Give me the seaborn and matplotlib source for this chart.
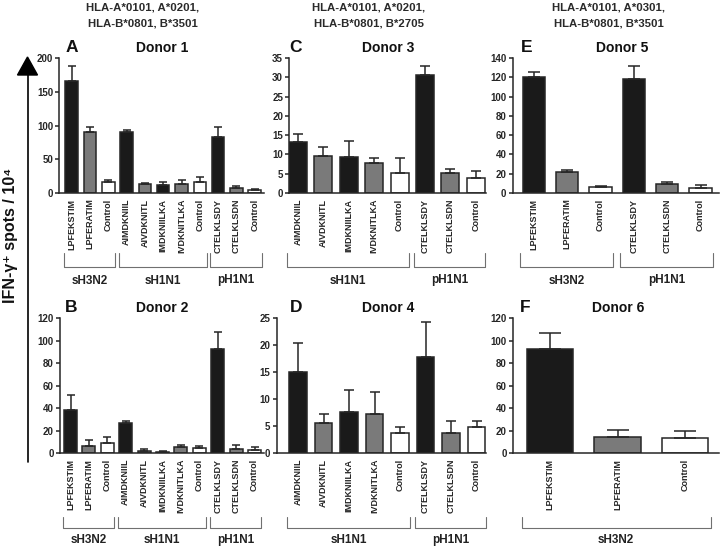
import numpy as np
import pandas as pd
import matplotlib
matplotlib.use("Agg")
import matplotlib.pyplot as plt
import seaborn as sns
from matplotlib import transforms
from matplotlib.lines import Line2D
from matplotlib.patches import Polygon

# ---------------- data ----------------
hla_headers = [["HLA-A*0101, A*0201,", "HLA-B*0801, B*3501"],
               ["HLA-A*0101, A*0201,", "HLA-B*0801, B*2705"],
               ["HLA-A*0101, A*0301,", "HLA-B*0801, B*3501"]]

labels_AB = ["LPFEKSTIM", "LPFERATIM", "Control", "AIMDKNIIL", "AIVDKNITL",
             "IMDKNIILKA", "IVDKNITLKA", "Control", "CTELKLSDY", "CTELKLSDN", "Control"]
groups_AB = ["sH3N2", "sH3N2", "sH3N2", "sH1N1", "sH1N1", "sH1N1", "sH1N1", "sH1N1",
             "pH1N1", "pH1N1", "pH1N1"]
labels_CD = ["AIMDKNIIL", "AIVDKNITL", "IMDKNIILKA", "IVDKNITLKA", "Control",
             "CTELKLSDY", "CTELKLSDN", "Control"]
groups_CD = ["sH1N1", "sH1N1", "sH1N1", "sH1N1", "sH1N1", "pH1N1", "pH1N1", "pH1N1"]
labels_E = ["LPFEKSTIM", "LPFERATIM", "Control", "CTELKLSDY", "CTELKLSDN", "Control"]
groups_E = ["sH3N2", "sH3N2", "sH3N2", "pH1N1", "pH1N1", "pH1N1"]
labels_F = ["LPFEKSTIM", "LPFERATIM", "Control"]
groups_F = ["sH3N2", "sH3N2", "sH3N2"]

donor1_vals = [166, 90, 16, 90, 13, 12, 14, 17, 83, 7, 4]
donor1_err = [22, 8, 4, 3.5, 2, 4, 6, 6, 15, 4, 2]
donor2_vals = [38.5, 6.5, 9.5, 26.7, 2.0, 1.2, 5.3, 4.4, 92.7, 4.0, 3.3]
donor2_err = [13.3, 5.3, 5.3, 2.0, 1.8, 0.6, 2.4, 2.4, 15.3, 3.0, 2.0]
donor3_vals = [13.3, 9.5, 9.4, 7.7, 5.1, 30.5, 5.1, 3.8]
donor3_err = [2.1, 2.4, 4.0, 1.5, 3.9, 2.4, 1.0, 2.0]
donor4_vals = [15.0, 5.6, 7.7, 7.3, 3.7, 17.8, 3.7, 4.9]
donor4_err = [5.4, 1.6, 4.1, 4.1, 1.1, 6.6, 2.3, 1.1]
donor5_vals = [120.5, 21.4, 5.9, 118.6, 9.0, 5.5]
donor5_err = [5.2, 2.4, 1.1, 13.4, 2.5, 2.4]
donor6_vals = [92.4, 14.4, 13.5]
donor6_err = [14.3, 6.0, 5.9]

yticks_1 = [0, 50, 100, 150, 200]
yticks_2 = [0, 20, 40, 60, 80, 100, 120]
yticks_3 = [0, 5, 10, 15, 20, 25, 30, 35]
yticks_4 = [0, 5, 10, 15, 20, 25]
yticks_5 = [0, 20, 40, 60, 80, 100, 120, 140]
yticks_6 = [0, 20, 40, 60, 80, 100, 120]

# ---------------- style ----------------
sns.set_theme(style="ticks")
plt.rcParams['font.family'] = ['Liberation Sans', 'DejaVu Sans']
plt.rcParams['font.weight'] = 'bold'

shade_of = {"LPFEKSTIM": "k", "AIMDKNIIL": "k", "IMDKNIILKA": "k", "CTELKLSDY": "k",
            "LPFERATIM": "g", "AIVDKNITL": "g", "IVDKNITLKA": "g", "CTELKLSDN": "g",
            "Control": "w"}
palette = {"k": "#1a1a1a", "g": "#7a7a7a", "w": "#ffffff"}
EDGE = "#262626"

W, H = 720, 546
fig = plt.figure(figsize=(7.2, 5.46), dpi=100)


def fx(x):
    return x / W


def fy(y):
    return 1 - y / H


panels = [
    dict(letter="A", title="Donor 1", labels=labels_AB, groups=groups_AB, vals=donor1_vals,
         errs=donor1_err, yticks=yticks_1, left=59.3, right=264, top=58, bottom=193,
         c0=71.7, step=18.3, width=0.68, cap=2.8, lx=72, tx=162, row=0),
    dict(letter="C", title="Donor 3", labels=labels_CD, groups=groups_CD, vals=donor3_vals,
         errs=donor3_err, yticks=yticks_3, left=289.3, right=486, top=58, bottom=193,
         c0=298, step=25.4, width=0.71, cap=3.6, lx=296, tx=388, row=0),
    dict(letter="E", title="Donor 5", labels=labels_E, groups=groups_E, vals=donor5_vals,
         errs=donor5_err, yticks=yticks_5, left=512.7, right=719, top=58, bottom=193,
         c0=534, step=33.3, width=0.67, cap=4.0, lx=527, tx=622, row=0),
    dict(letter="B", title="Donor 2", labels=labels_AB, groups=groups_AB, vals=donor2_vals,
         errs=donor2_err, yticks=yticks_2, left=60, right=264, top=318.3, bottom=453.3,
         c0=70.5, step=18.4, width=0.7, cap=2.8, lx=71, tx=162, row=1),
    dict(letter="D", title="Donor 4", labels=labels_CD, groups=groups_CD, vals=donor4_vals,
         errs=donor4_err, yticks=yticks_4, left=276.7, right=486, top=318.3, bottom=453.3,
         c0=298, step=25.5, width=0.7, cap=3.6, lx=296, tx=388, row=1),
    dict(letter="F", title="Donor 6", labels=labels_F, groups=groups_F, vals=donor6_vals,
         errs=donor6_err, yticks=yticks_6, left=513, right=719, top=318.3, bottom=453.3,
         c0=550, step=67.5, width=0.69, cap=8.0, lx=525, tx=618, row=1),
]

row_text = {0: dict(base=52, br_top=253, br_bot=267, glab=283.5),
            1: dict(base=311.7, br_top=517, br_bot=528, glab=543)}

for p in panels:
    ax = fig.add_axes([fx(p["left"]), fy(p["bottom"]),
                       (p["right"] - p["left"]) / W, (p["bottom"] - p["top"]) / H])
    n = len(p["vals"])
    df = pd.DataFrame({"pos": [f"b{i}" for i in range(n)],
                       "val": p["vals"],
                       "shade": [shade_of[l] for l in p["labels"]]})
    sns.barplot(data=df, x="pos", y="val", hue="shade", palette=palette, legend=False,
                width=p["width"], edgecolor=EDGE, linewidth=1.1, errorbar=None,
                dodge=False, ax=ax)
    ax.errorbar(np.arange(n), p["vals"], yerr=[np.zeros(n), p["errs"]], fmt="none",
                ecolor=EDGE, elinewidth=1.1, capsize=p["cap"], capthick=1.1, zorder=4)

    ax.set_xlim((p["left"] - p["c0"]) / p["step"], (p["right"] - p["c0"]) / p["step"])
    ax.set_ylim(0, p["yticks"][-1])
    ax.set_yticks(p["yticks"])
    ax.set_yticklabels([str(t) for t in p["yticks"]], fontsize=7, fontweight="bold")
    ax.set_xticks(np.arange(n))
    ax.set_xticklabels(p["labels"], rotation=90, fontsize=6.5, fontweight="bold")
    ax.tick_params(axis="x", length=0, pad=4)
    ax.tick_params(axis="y", length=3, width=1.1, pad=1.5, color=EDGE)
    ax.set_xlabel("")
    ax.set_ylabel("")
    sns.despine(ax=ax)
    for s in ("left", "bottom"):
        ax.spines[s].set_linewidth(1.1)
        ax.spines[s].set_color(EDGE)
    ax.set_facecolor("none")

    rt = row_text[p["row"]]
    fig.text(fx(p["lx"]), fy(rt["base"]), p["letter"], ha="center", va="baseline",
             fontsize=12.5, fontweight="bold", color="#111")
    fig.text(fx(p["tx"]), fy(rt["base"]), p["title"], ha="center", va="baseline",
             fontsize=10, fontweight="bold", color="#111")

    # group brackets
    trans = transforms.blended_transform_factory(ax.transData, fig.transFigure)
    names = p["groups"]
    start = 0
    for i in range(1, n + 1):
        if i == n or names[i] != names[start]:
            x0 = start - 0.42
            x1 = (i - 1) + 0.38
            line = Line2D([x0, x0, x1, x1],
                          [fy(rt["br_top"]), fy(rt["br_bot"]), fy(rt["br_bot"]), fy(rt["br_top"])],
                          transform=trans, color="#707070", lw=0.8, clip_on=False)
            fig.add_artist(line)
            t = fig.text(0, 0, names[start], transform=trans, ha="center", va="baseline",
                         fontsize=8.5, fontweight="bold", color="#222")
            t.set_position(((x0 + x1) / 2, fy(rt["glab"])))
            start = i

# headers
header_x = [143, 369, 609]
for hx, lines in zip(header_x, hla_headers):
    fig.text(fx(hx), fy(10), lines[0], ha="center", va="baseline", fontsize=8.2,
             fontweight="bold", color="#2a2a2a")
    fig.text(fx(hx), fy(27), lines[1], ha="center", va="baseline", fontsize=8.2,
             fontweight="bold", color="#2a2a2a")

# y label with arrow
fig.add_artist(Line2D([fx(27.5), fx(27.5)], [fy(72), fy(462)], transform=fig.transFigure,
                      color="black", lw=1.2))
fig.add_artist(Polygon([[fx(17.5), fy(75)], [fx(37.5), fy(75)], [fx(27.5), fy(57)]],
                       closed=True, transform=fig.transFigure, color="black"))
fig.text(fx(11), fy(235), "IFN-γ⁺ spots / 10⁴", rotation=90, ha="center", va="center",
         fontsize=11.5, fontweight="bold", color="#111")

fig.savefig("out.png", dpi=100)
